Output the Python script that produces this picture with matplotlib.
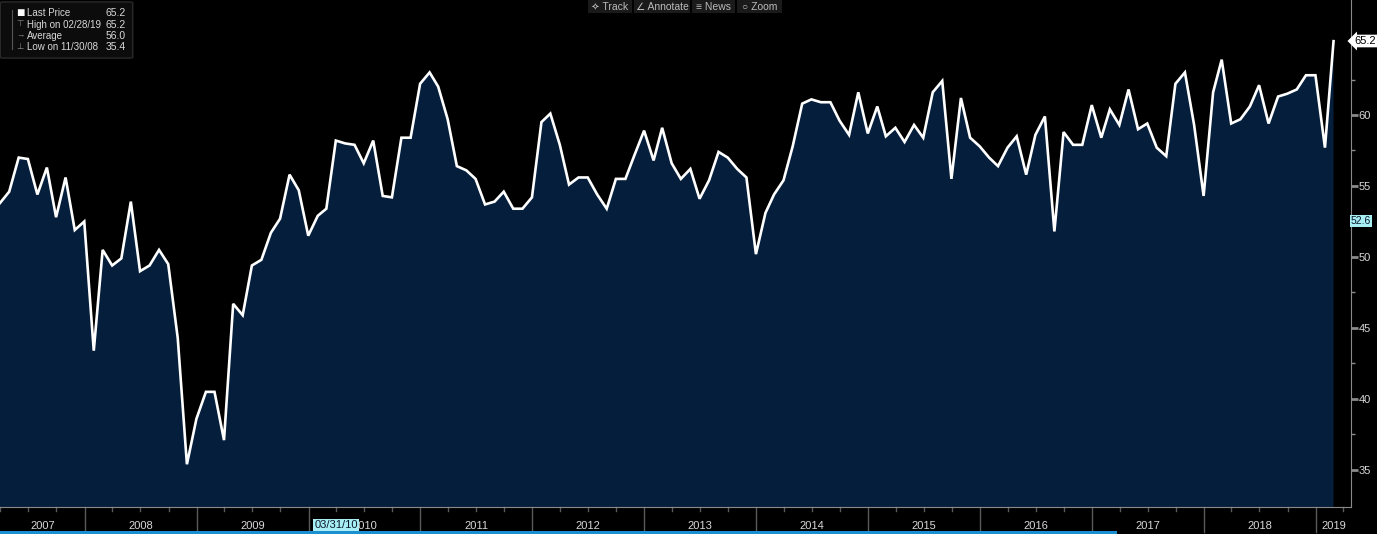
import numpy as np
import pandas as pd
import matplotlib
matplotlib.use("Agg")
import matplotlib.pyplot as plt
import matplotlib.dates as mdates
import matplotlib.transforms as mtransforms
from matplotlib.patches import FancyBboxPatch, Rectangle

plt.rcParams["font.family"] = ["Liberation Sans", "DejaVu Sans"]

W, H = 1377, 534

# monthly values, Mar 2007 .. Feb 2019
values = [
    53.8, 54.6, 57.0, 56.9, 54.4, 56.3, 52.8, 55.6, 51.9, 52.5,
    43.4, 50.5, 49.4, 49.9, 53.9, 49.0, 49.4, 50.5, 49.5, 44.3, 35.4, 38.6,
    40.5, 40.5, 37.1, 46.7, 45.9, 49.4, 49.8, 51.7, 52.7, 55.8, 54.7, 51.5,
    52.9, 53.4, 58.2, 58.0, 57.9, 56.6, 58.2, 54.3, 54.2, 58.4, 58.4, 62.2,
    63.0, 62.0, 59.7, 56.4, 56.1, 55.5, 53.7, 53.9, 54.6, 53.4, 53.4, 54.2,
    59.5, 60.1, 57.9, 55.1, 55.6, 55.6, 54.4, 53.4, 55.5, 55.5, 57.2, 58.9,
    56.8, 59.1, 56.6, 55.5, 56.2, 54.1, 55.4, 57.4, 57.0, 56.2, 55.6, 50.2,
    53.1, 54.4, 55.4, 57.8, 60.8, 61.1, 60.9, 60.9, 59.6, 58.6, 61.6, 58.7,
    60.6, 58.5, 59.1, 58.1, 59.3, 58.4, 61.6, 62.4, 55.5, 61.2, 58.4, 57.8,
    57.0, 56.4, 57.7, 58.5, 55.8, 58.6, 59.9, 51.8, 58.8, 57.9, 57.9, 60.7,
    58.4, 60.4, 59.3, 61.8, 59.0, 59.4, 57.7, 57.1, 62.2, 63.0, 59.3, 54.3,
    61.6, 63.9, 59.4, 59.7, 60.6, 62.1, 59.4, 61.3, 61.5, 61.8, 62.8, 62.8,
    57.7, 65.2,
]
dates = pd.date_range("2007-03-31", periods=len(values), freq="ME")
years = list(range(2007, 2020))
y_ticks = [35, 40, 45, 50, 55, 60]

legend_rows = [("Last Price", "65.2"), ("High on 02/28/19", "65.2"),
               ("Average", "56.0"), ("Low on 11/30/08", "35.4")]

fill_col = "#041e3b"
grey = "#8a8a8a"
txt = "#d8d8d8"


def fx(x):
    return x / W


def fy(y):
    return 1 - y / H


fig = plt.figure(figsize=(W / 100, H / 100), dpi=100, facecolor="black")
ax = fig.add_axes([0, fy(507), fx(1351), 507 / H], facecolor="black")

ax.fill_between(dates, values, 0, color=fill_col, lw=0)
ax.plot(dates, values, color="white", lw=1.9, solid_joinstyle="miter")

x0 = pd.Timestamp("2007-03-31")
x1 = pd.Timestamp("2019-04-26")
ax.set_xlim(x0, x1)
ax.set_ylim(32.39, 68.1)

for s in ["left", "top"]:
    ax.spines[s].set_visible(False)
ax.spines["right"].set_color(grey)
ax.spines["bottom"].set_color(grey)

ax.yaxis.tick_right()
ax.set_yticks(y_ticks)
ax.set_yticks(np.arange(37.5, 66, 5), minor=True)
ax.tick_params(axis="y", which="major", direction="out", length=5, width=2,
               colors=grey, labelcolor=txt, labelsize=8, pad=0.5)
ax.tick_params(axis="y", which="minor", direction="out", length=3, width=1, colors=grey)
ax.set_xticks([])

# bottom axis: year separators, quarter ticks, year labels
trans = mtransforms.blended_transform_factory(ax.transData, ax.transAxes)
ext = 25 / 507
for yr in years[1:]:
    d = mdates.date2num(pd.Timestamp(f"{yr}-01-01"))
    ax.plot([d, d], [0, -ext], transform=trans, color="#5a5a5a", lw=1, clip_on=False)
for yr in years:
    for m in (4, 7, 10):
        d = pd.Timestamp(f"{yr}-{m:02d}-01")
        if x0 < d < x1:
            dn = mdates.date2num(d)
            ax.plot([dn, dn], [0, -4 / 507], transform=trans, color="#5a5a5a", lw=1, clip_on=False)
for yr in years:
    a = max(mdates.date2num(pd.Timestamp(f"{yr}-01-01")), mdates.date2num(x0))
    b = min(mdates.date2num(pd.Timestamp(f"{yr + 1}-01-01")), mdates.date2num(x1))
    ax.text((a + b) / 2, -19 / 507, str(yr), transform=trans, color=txt,
            fontsize=8, ha="center", va="center", clip_on=False)

# cursor labels
fig.text(fx(336), fy(525), "03/31/10", color="#0a1a2a", fontsize=8, ha="center", va="center",
         bbox=dict(boxstyle="square,pad=0.12", fc="#a8eef5", ec="none"))
fig.text(fx(1361), fy(221), "52.6", color="#0a1a2a", fontsize=7.5, ha="center", va="center",
         bbox=dict(boxstyle="square,pad=0.1", fc="#a8eef5", ec="none"))
fig.text(fx(1365), fy(41), "65.2", color="black", fontsize=8, ha="center", va="center",
         bbox=dict(boxstyle="larrow,pad=0.12", fc="white", ec="none"))

# scrollbar strip
fig.patches.append(Rectangle((0, 0), fx(1117), 3 / H, transform=fig.transFigure,
                             fc="#1b8fd0", ec="none"))

# legend box
fig.patches.append(FancyBboxPatch((fx(3), fy(57)), fx(127), 54 / H,
                                  boxstyle="round,pad=0.002", transform=fig.transFigure,
                                  fc="#0c0c0c", ec="#2a2a2a", lw=1))
row_y = [13, 24.5, 36, 47.5]
glyphs = ["\u25a0", "\u22a4", "\u2192", "\u22a5"]
for (lab, val), yy, g in zip(legend_rows, row_y, glyphs):
    fig.text(fx(27), fy(yy), lab, color=txt, fontsize=7, va="center")
    fig.text(fx(126), fy(yy), val, color=txt, fontsize=7.5, va="center", ha="right")
    fig.text(fx(20), fy(yy), g, color="white" if g == "\u25a0" else grey,
             fontsize=10 if g == "\u25a0" else 6, va="center", ha="center")
fig.lines.append(plt.Line2D([fx(12), fx(12)], [fy(10), fy(49)], transform=fig.transFigure,
                            color="#555555", lw=0.8))

# toolbar
tools = [("\u2727 Track", 588, 632), ("\u2220 Annotate", 634, 690),
         ("\u2261 News", 692, 735), ("\u25cb Zoom", 737, 782)]
for lab, a, b in tools:
    fig.patches.append(Rectangle((fx(a), fy(13)), fx(b - a), 13 / H, transform=fig.transFigure,
                                 fc="#1a1a1a", ec="none"))
    fig.text(fx((a + b) / 2), fy(6.5), lab, color="#bbbbbb", fontsize=7.5, ha="center", va="center")

fig.savefig("out.png", dpi=100, facecolor="black")
